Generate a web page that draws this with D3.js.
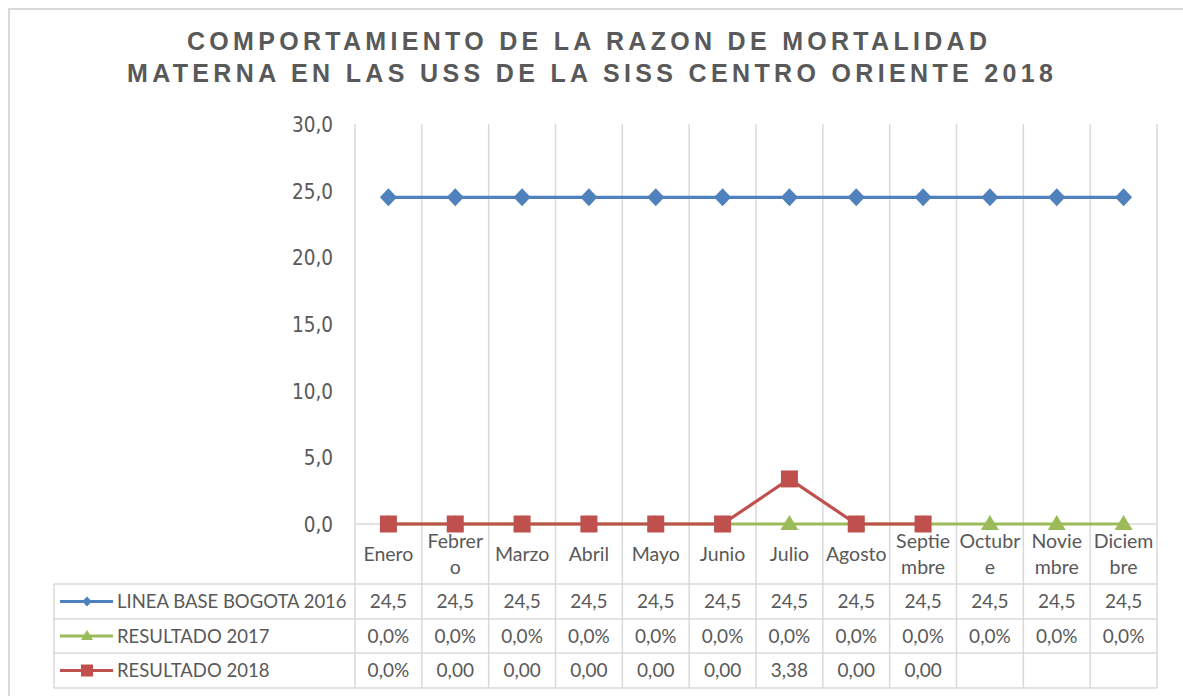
<!DOCTYPE html>
<html>
<head>
<meta charset="utf-8">
<script src="https://cdn.jsdelivr.net/npm/d3@7"></script>
<style>
  body { margin: 0; background: #fff; }
  svg { display: block; }
</style>
</head>
<body>
<svg id="chart"></svg>
<script>
// Categories (months) and how Excel wrapped them in the data table
const months = ["Enero", "Febrero", "Marzo", "Abril", "Mayo", "Junio", "Julio",
  "Agosto", "Septiembre", "Octubre", "Noviembre", "Diciembre"];
const monthLines = [["Enero"], ["Febrer", "o"], ["Marzo"], ["Abril"], ["Mayo"], ["Junio"],
  ["Julio"], ["Agosto"], ["Septie", "mbre"], ["Octubr", "e"], ["Novie", "mbre"], ["Diciem", "bre"]];

// Series values
const lineaBase = [24.5, 24.5, 24.5, 24.5, 24.5, 24.5, 24.5, 24.5, 24.5, 24.5, 24.5, 24.5];
const resultado2017 = [0, 0, 0, 0, 0, 0, 0, 0, 0, 0, 0, 0];
const resultado2018 = [0, 0, 0, 0, 0, 0, 3.38, 0, 0, null, null, null];

// Text shown in the data table
const lineaBaseText = ["24,5", "24,5", "24,5", "24,5", "24,5", "24,5", "24,5", "24,5", "24,5", "24,5", "24,5", "24,5"];
const resultado2017Text = ["0,0%", "0,0%", "0,0%", "0,0%", "0,0%", "0,0%", "0,0%", "0,0%", "0,0%", "0,0%", "0,0%", "0,0%"];
const resultado2018Text = ["0,0%", "0,00", "0,00", "0,00", "0,00", "0,00", "3,38", "0,00", "0,00", "", "", ""];

const yTicks = [0, 5, 10, 15, 20, 25, 30];

const titleLines = ["COMPORTAMIENTO DE LA RAZON DE MORTALIDAD",
  "MATERNA EN LAS USS DE LA SISS CENTRO ORIENTE 2018"];

const colors = { blue: "#4F81BD", green: "#9BBB59", red: "#C0504D", text: "#595959", grid: "#d9d9d9" };

const width = 1183, height = 696;
const plot = { left: 355, right: 1157, top: 124, bottom: 524 };
const rows = [524, 584, 619, 653, 688]; // table row edges
const legendLeft = 54;

const svg = d3.select("#chart").attr("width", width).attr("height", height);

svg.append("rect").attr("width", width).attr("height", height).attr("fill", "#fff");

// chart area border (only top/left visible in the picture)
svg.append("rect")
  .attr("x", 9).attr("y", 9).attr("width", width + 20).attr("height", height + 20)
  .attr("fill", "none").attr("stroke", colors.grid).attr("stroke-width", 2);

// title
const titleX = [187, 127], titleLen = [800, 926], titleY = [50, 82];
svg.append("g").selectAll("text")
  .data(titleLines)
  .join("text")
  .attr("x", (d, i) => titleX[i])
  .attr("y", (d, i) => titleY[i])
  .attr("textLength", (d, i) => titleLen[i])
  .attr("lengthAdjust", "spacing")
  .attr("font-family", "'Liberation Sans', Arial, sans-serif")
  .attr("font-weight", "bold")
  .attr("font-size", 25)
  .attr("fill", colors.text)
  .text(d => d);

// scales
const x = d3.scaleBand().domain(months).range([plot.left, plot.right]);
const y = d3.scaleLinear().domain([0, 30]).range([plot.bottom, plot.top]);
const cx = m => x(m) + x.bandwidth() / 2;

// vertical gridlines (category boundaries, running through the table)
const edges = months.map(m => x(m)).concat([plot.right]);
svg.append("g").selectAll("line")
  .data(edges)
  .join("line")
  .attr("x1", d => d).attr("x2", d => d)
  .attr("y1", plot.top).attr("y2", rows[rows.length - 1])
  .attr("stroke", colors.grid).attr("stroke-width", 1.5);

// horizontal table lines
svg.append("g").selectAll("line")
  .data(rows)
  .join("line")
  .attr("x1", (d, i) => i === 0 ? plot.left : legendLeft)
  .attr("x2", plot.right)
  .attr("y1", d => d).attr("y2", d => d)
  .attr("stroke", colors.grid).attr("stroke-width", 1.5);

svg.append("line")
  .attr("x1", legendLeft).attr("x2", legendLeft)
  .attr("y1", rows[1]).attr("y2", rows[4])
  .attr("stroke", colors.grid).attr("stroke-width", 1.5);

// y axis
const yAxis = d3.axisLeft(y)
  .tickValues(yTicks)
  .tickSize(0)
  .tickPadding(0)
  .tickFormat(d => d3.format(".1f")(d).replace(".", ","));
const yAxisG = svg.append("g")
  .attr("transform", "translate(333,0)")
  .call(yAxis);
yAxisG.select(".domain").remove();
yAxisG.selectAll("text")
  .attr("font-family", "'DejaVu Sans Condensed', 'DejaVu Sans', sans-serif")
  .attr("font-stretch", "condensed")
  .attr("font-size", 20.5)
  .attr("fill", colors.text)
  .attr("dy", "0.36em");

// category labels (table header row)
const tableFont = "Lato, 'Open Sans', sans-serif";
const catG = svg.append("g");
months.forEach((m, i) => {
  const lines = monthLines[i];
  const mid = (rows[0] + rows[1]) / 2;
  const t = catG.append("text")
    .attr("x", cx(m))
    .attr("text-anchor", "middle")
    .attr("font-family", tableFont)
    .attr("font-size", 19.5)
    .attr("fill", colors.text);
  lines.forEach((ln, j) => {
    t.append("tspan")
      .attr("x", cx(m))
      .attr("y", mid + (j - (lines.length - 1) / 2) * 26)
      .attr("dy", "0.36em")
      .text(ln);
  });
});

// markers
const diamond = (s) => `M0,${-s}L${s * 0.95},0L0,${s}L${-s * 0.95},0Z`;
const square = (s) => `M${-s},${-s}H${s}V${s}H${-s}Z`;
const triangle = (w, h) => `M0,${-h * 0.6}L${w / 2},${h * 0.4}H${-w / 2}Z`;

const series = [
  { name: "LINEA BASE BOGOTA 2016", values: lineaBase, text: lineaBaseText, color: colors.blue,
    marker: diamond(9), legendMarker: diamond(5) },
  { name: "RESULTADO 2017", values: resultado2017, text: resultado2017Text, color: colors.green,
    marker: triangle(18, 15), legendMarker: triangle(12, 10) },
  { name: "RESULTADO 2018", values: resultado2018, text: resultado2018Text, color: colors.red,
    marker: square(8.5), legendMarker: square(6) }
];

const line = d3.line()
  .defined(d => d.v !== null)
  .x(d => cx(d.m))
  .y(d => y(d.v));

series.forEach(s => {
  const pts = months.map((m, i) => ({ m: m, v: s.values[i] }));
  const g = svg.append("g");
  g.append("path")
    .datum(pts)
    .attr("d", line)
    .attr("fill", "none")
    .attr("stroke", s.color)
    .attr("stroke-width", 3.2);
  g.selectAll("path.mk")
    .data(pts.filter(d => d.v !== null))
    .join("path")
    .attr("class", "mk")
    .attr("transform", d => `translate(${cx(d.m)},${y(d.v)})`)
    .attr("d", s.marker)
    .attr("fill", s.color);
});

// data table rows with legend keys
series.forEach((s, r) => {
  const mid = (rows[r + 1] + rows[r + 2]) / 2;
  const g = svg.append("g");
  g.append("line")
    .attr("x1", 60).attr("x2", 113)
    .attr("y1", mid).attr("y2", mid)
    .attr("stroke", s.color).attr("stroke-width", 3.2);
  g.append("path")
    .attr("transform", `translate(87,${mid})`)
    .attr("d", s.legendMarker)
    .attr("fill", s.color);
  g.append("text")
    .attr("x", 117).attr("y", mid).attr("dy", "0.36em")
    .attr("font-family", tableFont)
    .attr("font-size", 18.5)
    .attr("fill", colors.text)
    .text(s.name);
  g.selectAll("text.val")
    .data(months)
    .join("text")
    .attr("class", "val")
    .attr("x", d => cx(d))
    .attr("y", mid).attr("dy", "0.36em")
    .attr("text-anchor", "middle")
    .attr("font-family", tableFont)
    .attr("font-size", 19)
    .attr("fill", colors.text)
    .text((d, i) => s.text[i]);
});
</script>
</body>
</html>
